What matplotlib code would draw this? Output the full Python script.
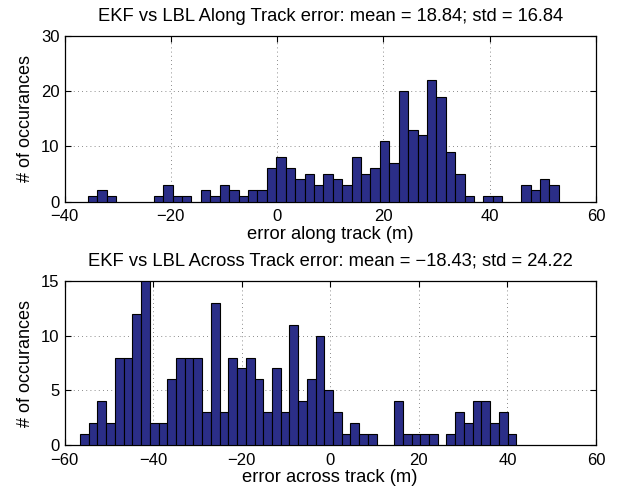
import numpy as np
import matplotlib
matplotlib.use('Agg')
import matplotlib.pyplot as plt

# histogram counts (50 bins each, MATLAB hist style)
along_range = (-35.6, 53.0)
along_counts = [1, 2, 1, 0, 0, 0, 0, 1, 3, 1,
                1, 0, 2, 1, 3, 2, 1, 2, 2, 6,
                8, 6, 4, 5, 3, 5, 4, 3, 8, 5,
                6, 11, 7, 20, 13, 12, 22, 19, 9, 5,
                1, 0, 1, 1, 0, 0, 3, 2, 4, 3]

across_range = (-56.5, 42.0)
across_counts = [1, 2, 4, 2, 8, 8, 12, 15, 2, 2,
                 6, 8, 8, 8, 3, 13, 3, 8, 7, 8,
                 6, 3, 7, 3, 11, 4, 6, 10, 5, 3,
                 1, 2, 1, 1, 0, 0, 4, 1, 1, 1,
                 1, 0, 1, 3, 2, 4, 4, 2, 3, 1]

along_title = 'EKF vs LBL Along Track error: mean = 18.84; std = 16.84'
across_title = 'EKF vs LBL Across Track error: mean = \u221218.43; std = 24.22'

plt.rcParams['font.family'] = ['Liberation Sans', 'DejaVu Sans']

fig = plt.figure(figsize=(6.17, 4.94), dpi=100)
ax1 = fig.add_axes([64.5/617, 1-201.5/494, (596-64.5)/617, 165.5/494])
ax2 = fig.add_axes([64.5/617, 1-445/494, (596-64.5)/617, 164/494])


def draw_hist(ax, rng, counts, xlim, ylim, yticks, title, xlabel, tpad):
    counts = np.array(counts)
    edges = np.linspace(rng[0], rng[1], len(counts) + 1)
    w = edges[1] - edges[0]
    keep = counts > 0
    ax.bar(edges[:-1][keep], counts[keep], width=w, align='edge',
           color='#2b2e88', edgecolor='black', linewidth=0.8, zorder=3)
    ax.set_xlim(xlim)
    ax.set_ylim(ylim)
    ax.set_xticks(np.arange(xlim[0], xlim[1] + 1, 20))
    ax.set_yticks(yticks)
    ax.grid(True, color='#666666', linestyle=(0, (1, 4)), linewidth=0.6, zorder=0)
    ax.tick_params(direction='in', top=True, right=True, length=4,
                   labelsize=12)
    ax.tick_params(axis='x', pad=5.5)
    ax.tick_params(axis='y', pad=3.5)
    for s in ax.spines.values():
        s.set_linewidth(0.9)
    ax.set_title(title, fontsize=13.2, pad=tpad)
    ax.set_xlabel(xlabel, fontsize=13.2, labelpad=1)
    ax.set_ylabel('# of occurances', fontsize=13, labelpad=5)


draw_hist(ax1, along_range, along_counts, (-40, 60), (0, 30), [0, 10, 20, 30],
          along_title, 'error along track (m)', 10.8)
draw_hist(ax2, across_range, across_counts, (-60, 60), (0, 15), [0, 5, 10, 15],
          across_title, 'error across track (m)', 11.5)

fig.savefig('out.png', dpi=100)
